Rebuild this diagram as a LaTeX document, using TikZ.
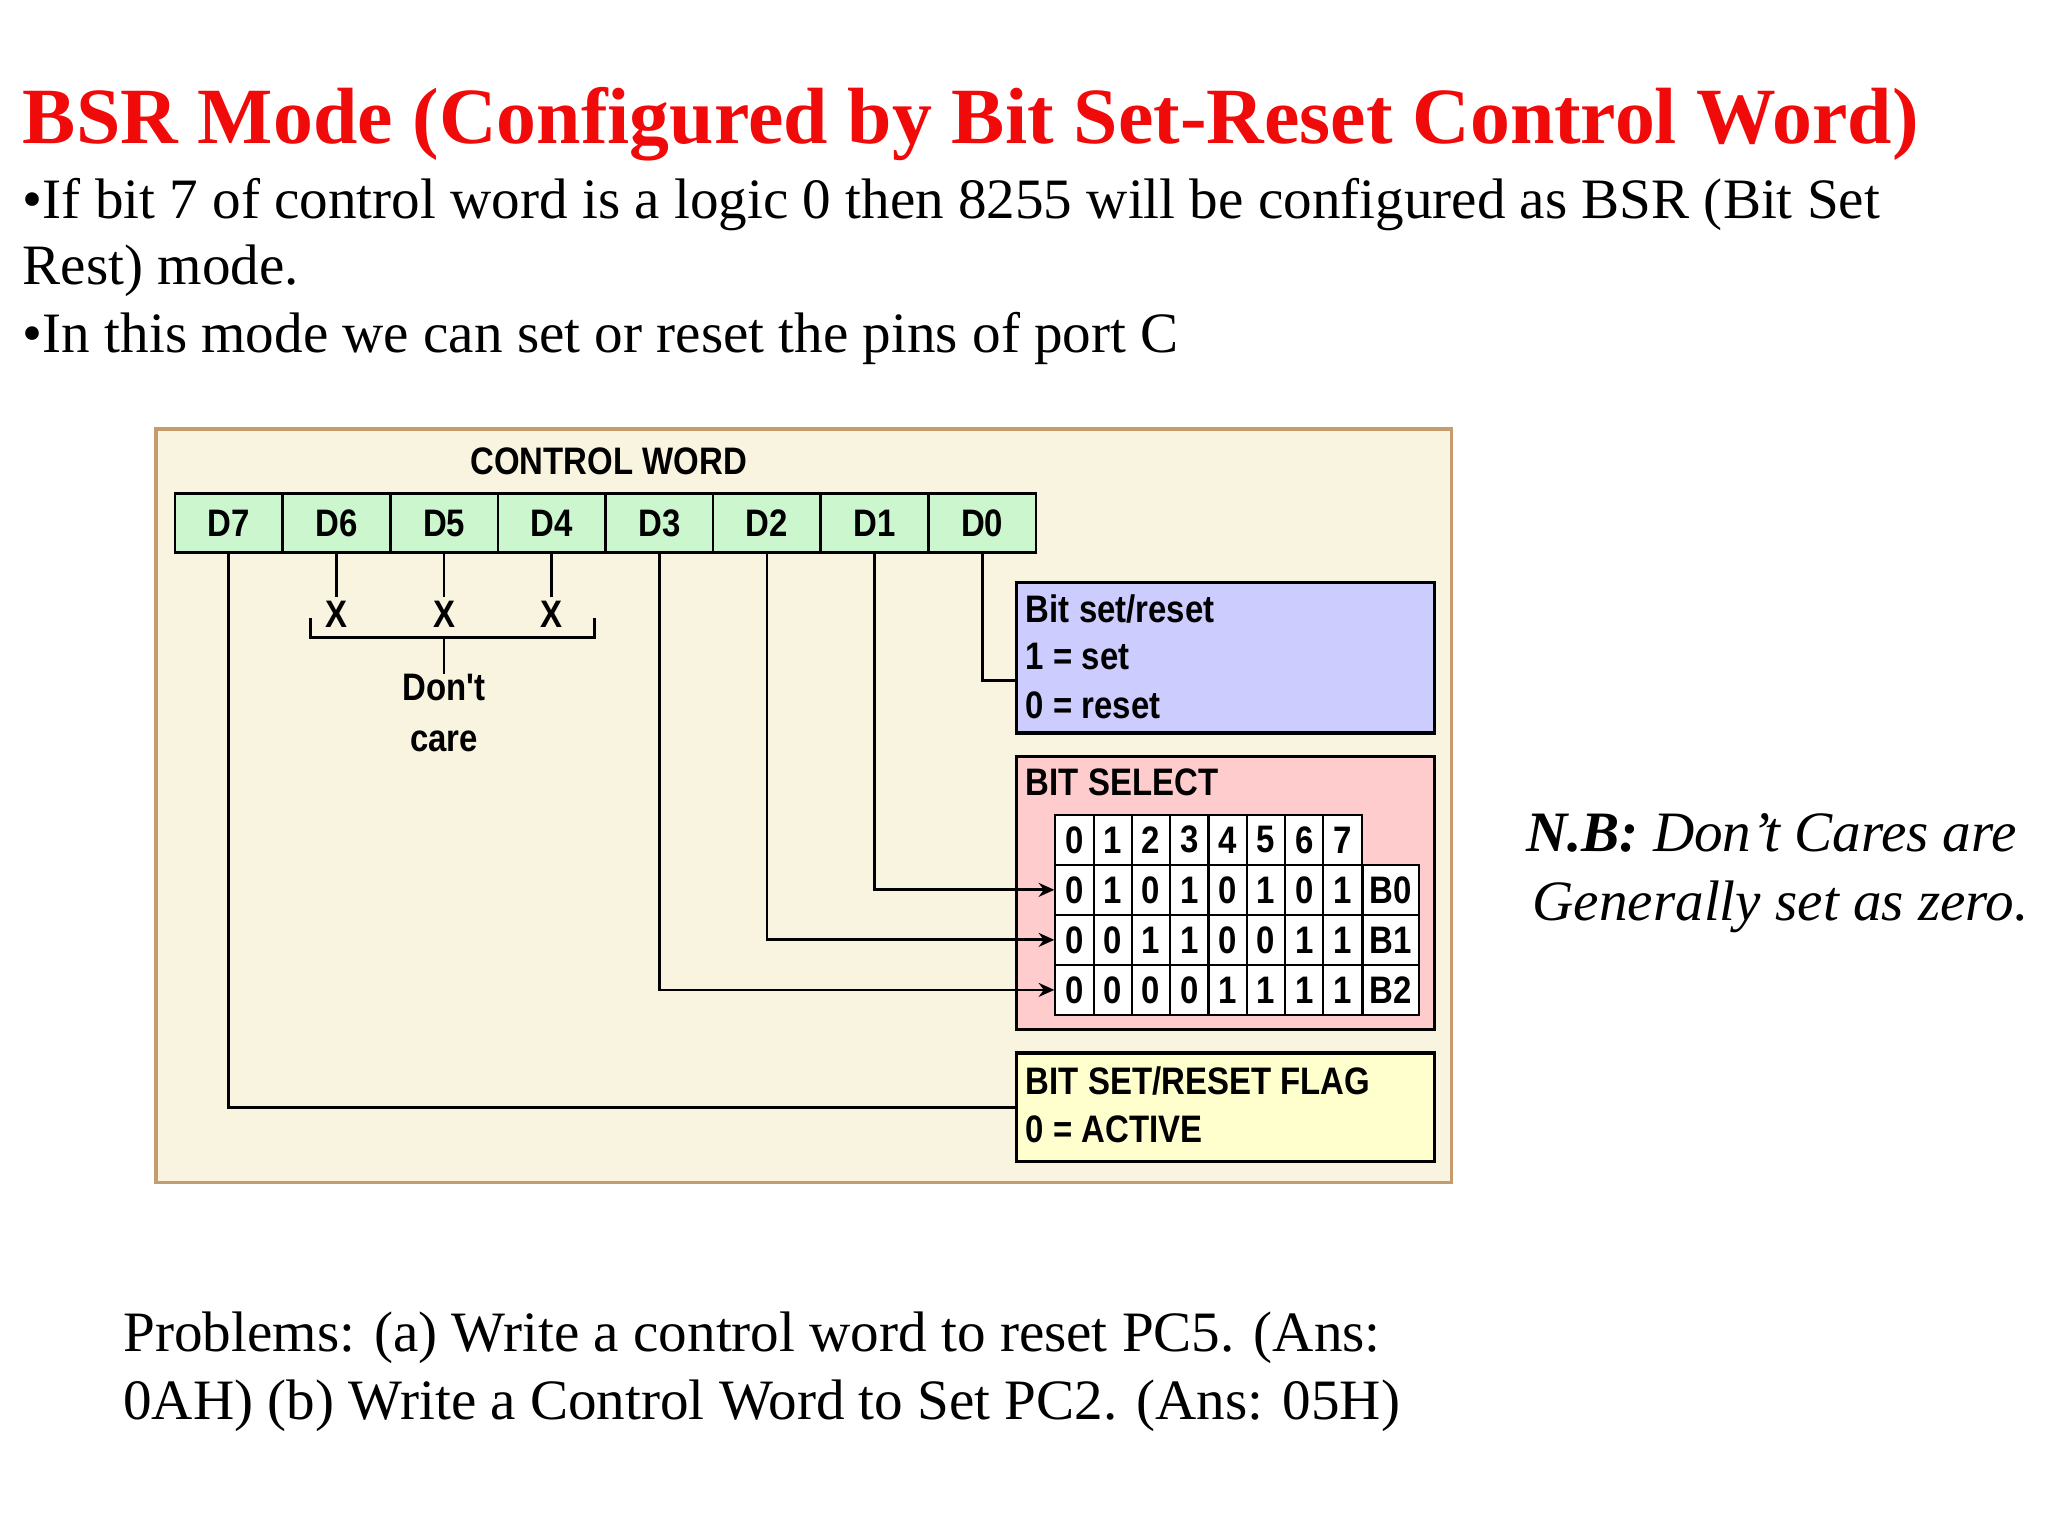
\documentclass[tikz,border=0pt]{standalone}
\usepackage{fontspec}
\setmainfont{Liberation Serif}
\newfontfamily\diagfont{Liberation Sans}[FakeStretch=0.86]
\usetikzlibrary{positioning,arrows.meta}
\definecolor{titlered}{RGB}{240,10,10}
\definecolor{panel}{RGB}{248,244,224}
\definecolor{panelrim}{RGB}{196,156,110}
\definecolor{cellgreen}{RGB}{204,246,206}
\definecolor{boxblue}{RGB}{204,204,255}
\definecolor{boxpink}{RGB}{255,204,206}
\definecolor{boxyellow}{RGB}{255,255,206}
\tikzset{every picture/.style={line width=0.75pt},
  dtext/.style={font=\diagfont\bfseries\fontsize{22}{26}\selectfont, inner sep=0pt},
  bitcell/.style={draw, line width=1.5pt, fill=cellgreen, minimum width=61.8pt, minimum height=33.75pt, dtext},
  gridcell/.style={draw, line width=1.2pt, fill=white, minimum width=22pt, minimum height=28.7pt, dtext},
  infobox/.style={draw, line width=1.8pt, anchor=north west, minimum width=240pt},
  wire/.style={line width=1.6pt},
  slide/.style={anchor=base west, inner sep=0pt, font=\fontsize{32.8}{40}\selectfont}}

\begin{document}
\begin{tikzpicture}[x=0.75pt,y=0.75pt,yscale=-1,xscale=1]
		\useasboundingbox (0,0) rectangle (1568,1176);
		
		% heading and bullets
		\node [slide, text=titlered, font=\bfseries\fontsize{45.8}{56}\selectfont] (title) at (17,110) {BSR Mode (Configured by Bit Set-Reset Control Word)};
		\node [slide] (line1) at (17,167) {\textbullet If bit 7 of control word is a logic 0 then 8255 will be configured as BSR (Bit Set};
		\node [slide] (line2) at (17,218) {Rest) mode.};
		\node [slide] (line3) at (17,270) {\textbullet In this mode we can set or reset the pins of port C};
		
		% panel
		\node [draw=panelrim, fill=panel, line width=2pt, anchor=north west, minimum width=744pt, minimum height=432.75pt] (panel) at (118,327) {};
		\node [dtext] (cw) at (466,353) {CONTROL WORD};
		\foreach \b [count=\k from 0] in {7,6,5,4,3,2,1,0}
			\node [bitcell] (d\b) at (175.2+82.4*\k,400.5) {D\b};
		
		% don't care bits
		\foreach \b in {6,5,4} {
			\node [dtext] (x\b) at (d\b |- 0,470) {X};
			\draw [wire] (d\b.south) -- ([yshift=-2pt]x\b.north);
		}
		\draw [wire] (238,473) -- (238,488) -- (455,488) -- (455,473);
		\node [dtext, align=center, font=\diagfont\bfseries\fontsize{22}{29}\selectfont] (dc) at (d5 |- 0,546) {Don't\\care};
		\draw [wire] (d5 |- 0,488) -- (dc.north);
		
		% info boxes
		\node [infobox, fill=boxblue, minimum height=86.25pt] (setbox) at (777,445) {};
		\node [dtext, anchor=west] (s1) at (785,466) {Bit set/reset};
		\node [dtext, anchor=west] (s2) at (785,503) {1 = set};
		\node [dtext, anchor=west] (s3) at (785,540) {0 = reset};
		
		\node [infobox, fill=boxpink, minimum height=156.75pt] (selbox) at (777,578) {};
		\node [dtext, anchor=west] (sel) at (785,599) {BIT SELECT};
		
		\node [infobox, fill=boxyellow, minimum height=62.25pt] (flagbox) at (777,805) {};
		\node [dtext, anchor=west] (f1) at (785,828) {BIT SET/RESET FLAG};
		\node [dtext, anchor=west] (f2) at (785,865) {0 = ACTIVE};
		
		% bit select table
		\foreach \c in {0,...,7}
			\node [gridcell] (g0\c) at (822.7+29.3*\c,643) {\c};
		\foreach \r/\bits in {1/{0,1,0,1,0,1,0,1},2/{0,0,1,1,0,0,1,1},3/{0,0,0,0,1,1,1,1}} {
			\foreach \v [count=\c from 0] in \bits
				\node [gridcell] (g\r\c) at (822.7+29.3*\c,643+38.3*\r) {\v};
			\pgfmathtruncatemacro{\lbl}{\r-1}
			\node [gridcell, minimum width=32pt] (g\r8) at (1064.9,643+38.3*\r) {B\lbl};
		}
		
		% connectors
		\draw [wire] (d0.south) |- (setbox.west |- 0,521);
		\draw [wire, -{Stealth[length=9pt,width=8pt]}] (d1.south) |- (g10.west);
		\draw [wire, -{Stealth[length=9pt,width=8pt]}] (d2.south) |- (g20.west);
		\draw [wire, -{Stealth[length=9pt,width=8pt]}] (d3.south) |- (g30.west);
		\draw [wire] (d7.south) |- (flagbox.west |- 0,848);
		
		% side note and problems
		\node [slide, font=\itshape\fontsize{32.8}{40}\selectfont] (nb1) at (1168,652) {\textbf{N.B:} Don’t Cares are};
		\node [slide, font=\itshape\fontsize{32.8}{40}\selectfont] (nb2) at (1173,705) {Generally set as zero.};
		\node [slide] (prob1) at (94,1035) {Problems: (a) Write a control word to reset PC5. (Ans:};
		\node [slide] (prob2) at (94,1087) {0AH) (b) Write a Control Word to Set PC2. (Ans: 05H)};
		
	\end{tikzpicture}
\end{document}
